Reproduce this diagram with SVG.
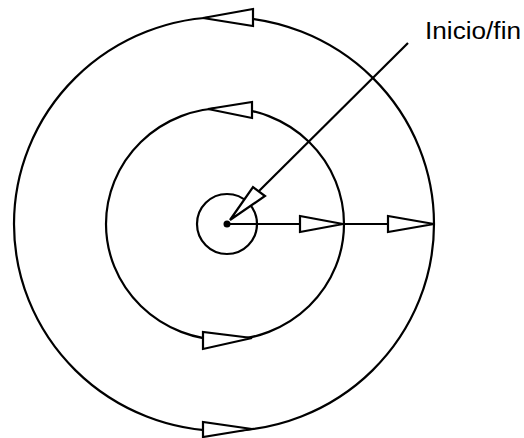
<svg xmlns="http://www.w3.org/2000/svg" width="524" height="438" viewBox="0 0 524 438">
<style>
.c{fill:none;stroke:#000;stroke-width:2.2}
.l{stroke:#000;stroke-width:2.2;fill:none}
.a{fill:#fff;stroke:#000;stroke-width:2.2;stroke-linejoin:miter}
.t{font-family:"Liberation Sans",Arial,sans-serif;font-size:23px;fill:#000}
</style>
<rect width="524" height="438" fill="#fff"/>
<g id="outer-circle">
<ellipse class="c" cx="224" cy="224" rx="210" ry="207"/>
</g>
<g id="middle-circle">
<ellipse class="c" cx="225" cy="224" rx="119" ry="116"/>
</g>
<g id="inner-circle">
<circle class="c" cx="227" cy="224" r="30"/>
<circle cx="227" cy="224" r="3.5" fill="#000"/>
</g>
<g id="connectors">
<line class="l" x1="227" y1="224" x2="434" y2="224"/>
<line class="l" x1="259" y1="191" x2="408" y2="43"/>
<polygon class="a" points="300,216 300,232 343,224"/>
<polygon class="a" points="388,216 388,232 434,224"/>
<polygon class="a" points="230,220 253,187 265,196"/>
<polygon class="a" points="203,18 253,9 253,26"/>
<polygon class="a" points="208,109 252,102 252,118"/>
<polygon class="a" points="203,332 203,349 252,338"/>
<polygon class="a" points="203,422 203,437 252,429"/>
</g>
<g id="label">
<text class="t" x="425" y="39" textLength="96" lengthAdjust="spacingAndGlyphs">Inicio/fin</text>
</g>
</svg>
